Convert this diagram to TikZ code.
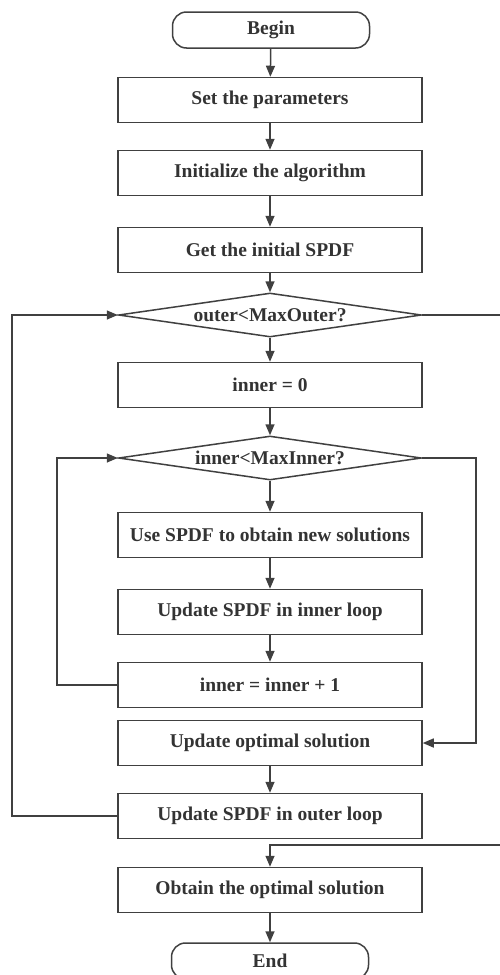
\documentclass[tikz,border=0pt]{standalone}
\usepackage{fontspec}
\setmainfont{Liberation Serif}
\usetikzlibrary{shapes.geometric,arrows.meta}
\definecolor{ln}{HTML}{404040}
\definecolor{tx}{HTML}{333333}
\tikzset{
  every node/.style={font=\fontsize{19.5}{22}\selectfont\bfseries, text=tx},
  stepbox/.style={draw=ln, line width=1.5pt, rectangle, minimum width=304pt, minimum height=45pt, inner sep=0pt},
  termbox/.style={draw=ln, line width=1.5pt, rectangle, rounded corners=14pt, minimum width=197pt, minimum height=36pt, inner sep=0pt},
  decbox/.style={draw=ln, line width=1.5pt, diamond, aspect=8, minimum width=303pt, minimum height=44pt, inner sep=0pt},
  conn/.style={draw=ln, line width=1.5pt},
  arr/.style={conn, -{Triangle[length=11pt,width=9pt]}},
}
\begin{document}
\begin{tikzpicture}[x=1pt,y=-1pt]
\useasboundingbox (0,0) rectangle (500,975);
\node[termbox] (begin) at (271,30) {Begin};
\node[stepbox] (set) at (270,100) {Set the parameters};
\node[stepbox] (init) at (270,173) {Initialize the algorithm};
\node[stepbox] (get) at (270,250) {Get the initial SPDF};
\node[decbox] (outer) at (270,315) {outer<MaxOuter?};
\node[stepbox] (inz) at (270,385) {inner = 0};
\node[decbox] (innerd) at (270,458) {inner<MaxInner?};
\node[stepbox] (use) at (270,535) {Use SPDF to obtain new solutions};
\node[stepbox] (updin) at (270,612) {Update SPDF in inner loop};
\node[stepbox] (inc) at (270,685) {inner = inner + 1};
\node[stepbox] (updopt) at (270,743) {Update optimal solution};
\node[stepbox] (updout) at (270,816) {Update SPDF in outer loop};
\node[stepbox] (obtain) at (270,890) {Obtain the optimal solution};
\node[termbox] (end) at (270,961) {End};
\coordinate (outA) at (500,315);
\coordinate (outB) at (500,845);
\coordinate (joinB) at (270,845);
\draw[arr] (begin) -- (set);
\draw[arr] (set) -- (init);
\draw[arr] (init) -- (get);
\draw[arr] (get) -- (outer);
\draw[arr] (outer) -- (inz);
\draw[arr] (inz) -- (innerd);
\draw[arr] (innerd) -- (use);
\draw[arr] (use) -- (updin);
\draw[arr] (updin) -- (inc);
\draw[arr] (inc.west) -- (57,685) |- (innerd.west);
\draw[arr] (innerd.east) -- (476,458) |- (updopt.east);
\draw[arr] (updopt) -- (updout);
\draw[arr] (updout.west) -- (12,816) |- (outer.west);
\draw[conn] (outer.east) -- (outA);
\draw[arr] (outB) -- (joinB) -- (obtain.north);
\draw[arr] (obtain) -- (end);
\end{tikzpicture}
\end{document}
